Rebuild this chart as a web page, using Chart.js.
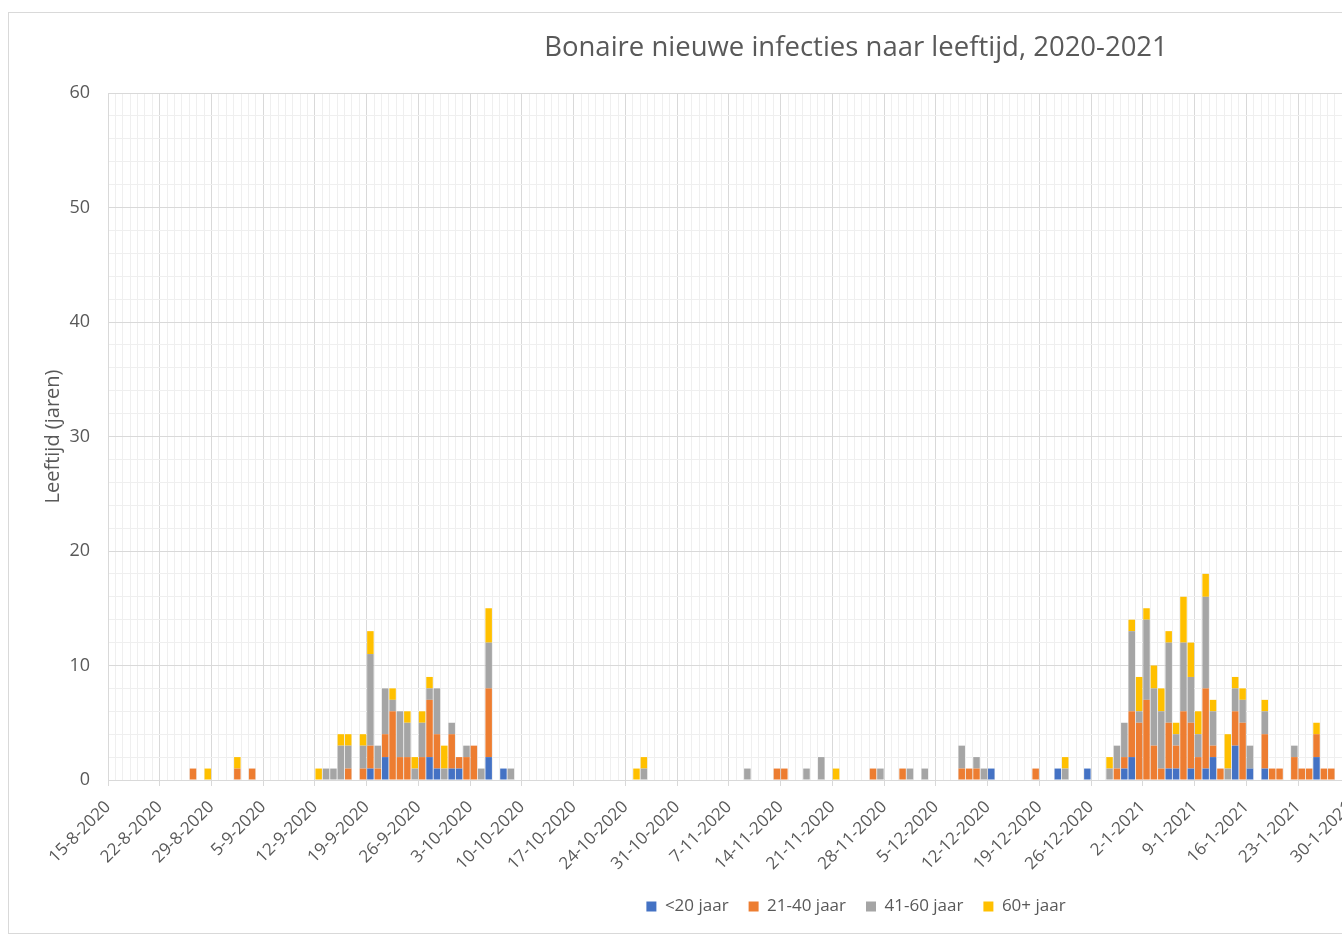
<!DOCTYPE html>
<html>
<head>
<meta charset="utf-8">
<script src="https://cdn.jsdelivr.net/npm/chart.js@4.4.1/dist/chart.umd.min.js"></script>
<style>
  html, body { margin: 0; padding: 0; background: #fff; overflow: hidden; }
  #frame { position: absolute; left: 8px; top: 12px; width: 1690px; height: 920px; border: 1px solid #d9d9d9; }
  #frame canvas { display: block; }
</style>
</head>
<body>
<div id="frame"><canvas id="chart" width="1690" height="920"></canvas></div>
<script>
// daily categories, 15-8-2020 onwards
const dates = [];
for (let i = 0; i < 212; i++) {
    const d = new Date(2020, 7, 15 + i);
    dates.push(d.getDate() + '-' + (d.getMonth() + 1) + '-' + d.getFullYear());
}

const seriesNames = ['<20 jaar', '21-40 jaar', '41-60 jaar', '60+ jaar'];
const seriesColors = ['#4472C4', '#ED7D31', '#A5A5A5', '#FFC000'];

// new infections per day (days not listed = 0)
const under20 = {
    '19-9-2020': 1, '21-9-2020': 2, '27-9-2020': 2, '28-9-2020': 1, '30-9-2020': 1, '1-10-2020': 1,
    '5-10-2020': 2, '7-10-2020': 1, '12-12-2020': 1, '21-12-2020': 1, '25-12-2020': 1, '30-12-2020': 1,
    '31-12-2020': 2, '5-1-2021': 1, '6-1-2021': 1, '8-1-2021': 1, '10-1-2021': 1, '11-1-2021': 2,
    '14-1-2021': 3, '16-1-2021': 1, '18-1-2021': 1, '25-1-2021': 2
};
const age21to40 = {
    '26-8-2020': 1, '1-9-2020': 1, '3-9-2020': 1, '16-9-2020': 1, '18-9-2020': 1, '19-9-2020': 2,
    '20-9-2020': 1, '21-9-2020': 2, '22-9-2020': 6, '23-9-2020': 2, '24-9-2020': 2, '26-9-2020': 2,
    '27-9-2020': 5, '28-9-2020': 3, '30-9-2020': 3, '1-10-2020': 1, '2-10-2020': 2, '3-10-2020': 3,
    '5-10-2020': 6, '13-11-2020': 1, '14-11-2020': 1, '26-11-2020': 1, '30-11-2020': 1, '8-12-2020': 1,
    '9-12-2020': 1, '10-12-2020': 1, '18-12-2020': 1, '29-12-2020': 1, '30-12-2020': 1, '31-12-2020': 4,
    '1-1-2021': 5, '2-1-2021': 7, '3-1-2021': 3, '4-1-2021': 1, '5-1-2021': 4, '6-1-2021': 2,
    '7-1-2021': 6, '8-1-2021': 4, '9-1-2021': 2, '10-1-2021': 7, '11-1-2021': 1, '12-1-2021': 1,
    '14-1-2021': 3, '15-1-2021': 5, '18-1-2021': 3, '19-1-2021': 1, '20-1-2021': 1, '22-1-2021': 2,
    '23-1-2021': 1, '24-1-2021': 1, '25-1-2021': 2, '26-1-2021': 1, '27-1-2021': 1
};
const age41to60 = {
    '13-9-2020': 1, '14-9-2020': 1, '15-9-2020': 3, '16-9-2020': 2, '18-9-2020': 2, '19-9-2020': 8,
    '20-9-2020': 2, '21-9-2020': 4, '22-9-2020': 1, '23-9-2020': 4, '24-9-2020': 3, '25-9-2020': 1,
    '26-9-2020': 3, '27-9-2020': 1, '28-9-2020': 4, '29-9-2020': 1, '30-9-2020': 1, '2-10-2020': 1,
    '4-10-2020': 1, '5-10-2020': 4, '8-10-2020': 1, '26-10-2020': 1, '9-11-2020': 1, '17-11-2020': 1,
    '19-11-2020': 2, '27-11-2020': 1, '1-12-2020': 1, '3-12-2020': 1, '8-12-2020': 2, '10-12-2020': 1,
    '11-12-2020': 1, '22-12-2020': 1, '28-12-2020': 1, '29-12-2020': 2, '30-12-2020': 3, '31-12-2020': 7,
    '1-1-2021': 1, '2-1-2021': 7, '3-1-2021': 5, '4-1-2021': 5, '5-1-2021': 7, '6-1-2021': 1,
    '7-1-2021': 6, '8-1-2021': 4, '9-1-2021': 2, '10-1-2021': 8, '11-1-2021': 3, '13-1-2021': 1,
    '14-1-2021': 2, '15-1-2021': 2, '16-1-2021': 2, '18-1-2021': 2, '22-1-2021': 1
};
const age60plus = {
    '28-8-2020': 1, '1-9-2020': 1, '12-9-2020': 1, '15-9-2020': 1, '16-9-2020': 1, '18-9-2020': 1,
    '19-9-2020': 2, '22-9-2020': 1, '24-9-2020': 1, '25-9-2020': 1, '26-9-2020': 1, '27-9-2020': 1,
    '29-9-2020': 2, '5-10-2020': 3, '25-10-2020': 1, '26-10-2020': 1, '21-11-2020': 1, '22-12-2020': 1,
    '28-12-2020': 1, '31-12-2020': 1, '1-1-2021': 3, '2-1-2021': 1, '3-1-2021': 2, '4-1-2021': 2,
    '5-1-2021': 1, '6-1-2021': 1, '7-1-2021': 4, '8-1-2021': 3, '9-1-2021': 2, '10-1-2021': 2,
    '11-1-2021': 1, '13-1-2021': 3, '14-1-2021': 1, '15-1-2021': 1, '18-1-2021': 1, '25-1-2021': 1
};

const yTicks = [0, 10, 20, 30, 40, 50, 60];

const series = [under20, age21to40, age41to60, age60plus];
const textColor = '#595959';
const font = "'Open Sans', sans-serif";

new Chart(document.getElementById('chart'), {
    type: 'bar',
    data: {
        labels: dates,
        datasets: series.map((s, k) => ({
            label: seriesNames[k],
            data: dates.map(d => s[d] || 0),
            backgroundColor: seriesColors[k],
            barPercentage: 0.88,
            categoryPercentage: 1.0
        }))
    },
    options: {
        responsive: false,
        animation: false,
        layout: { padding: { left: 28, right: 24, top: 0, bottom: 8 } },
        plugins: {
            title: {
                display: true,
                text: 'Bonaire nieuwe infecties naar leeftijd, 2020-2021',
                color: textColor,
                font: { family: font, size: 27.5, weight: 'normal' },
                padding: { top: 19, bottom: 28 }
            },
            legend: {
                position: 'bottom',
                labels: {
                    color: textColor,
                    font: { family: font, size: 17 },
                    boxWidth: 10,
                    boxHeight: 10,
                    padding: 20
                }
            },
            tooltip: { enabled: false }
        },
        scales: {
            x: {
                stacked: true,
                offset: true,
                afterFit: s => { s.height = 98; },
                grid: {
                    offset: true,
                    color: ctx => ctx.index % 7 === 0 ? '#d9d9d9' : '#efefef',
                    tickColor: ctx => ctx.index % 7 === 0 ? '#d9d9d9' : 'rgba(0,0,0,0)',
                    tickLength: 6
                },
                border: { color: '#d9d9d9' },
                ticks: {
                    autoSkip: false,
                    minRotation: 45,
                    maxRotation: 45,
                    labelOffset: -3.7,
                    padding: 11,
                    color: textColor,
                    font: { family: font, size: 17 },
                    callback: (v, i) => i % 7 === 0 ? dates[i] : ''
                }
            },
            y: {
                stacked: true,
                min: 0,
                max: yTicks[yTicks.length - 1],
                afterFit: s => { s.width = 71; },
                grid: {
                    color: ctx => yTicks.includes(ctx.tick.value) ? '#d9d9d9' : '#efefef',
                    drawTicks: false
                },
                border: { color: '#d9d9d9' },
                title: {
                    display: true,
                    text: 'Leeftijd (jaren)',
                    color: textColor,
                    font: { family: font, size: 20 }
                },
                ticks: {
                    stepSize: 2,
                    autoSkip: false,
                    padding: 18,
                    color: textColor,
                    font: { family: font, size: 18 },
                    callback: v => yTicks.includes(v) ? v : ''
                }
            }
        }
    }
});
</script>
</body>
</html>
